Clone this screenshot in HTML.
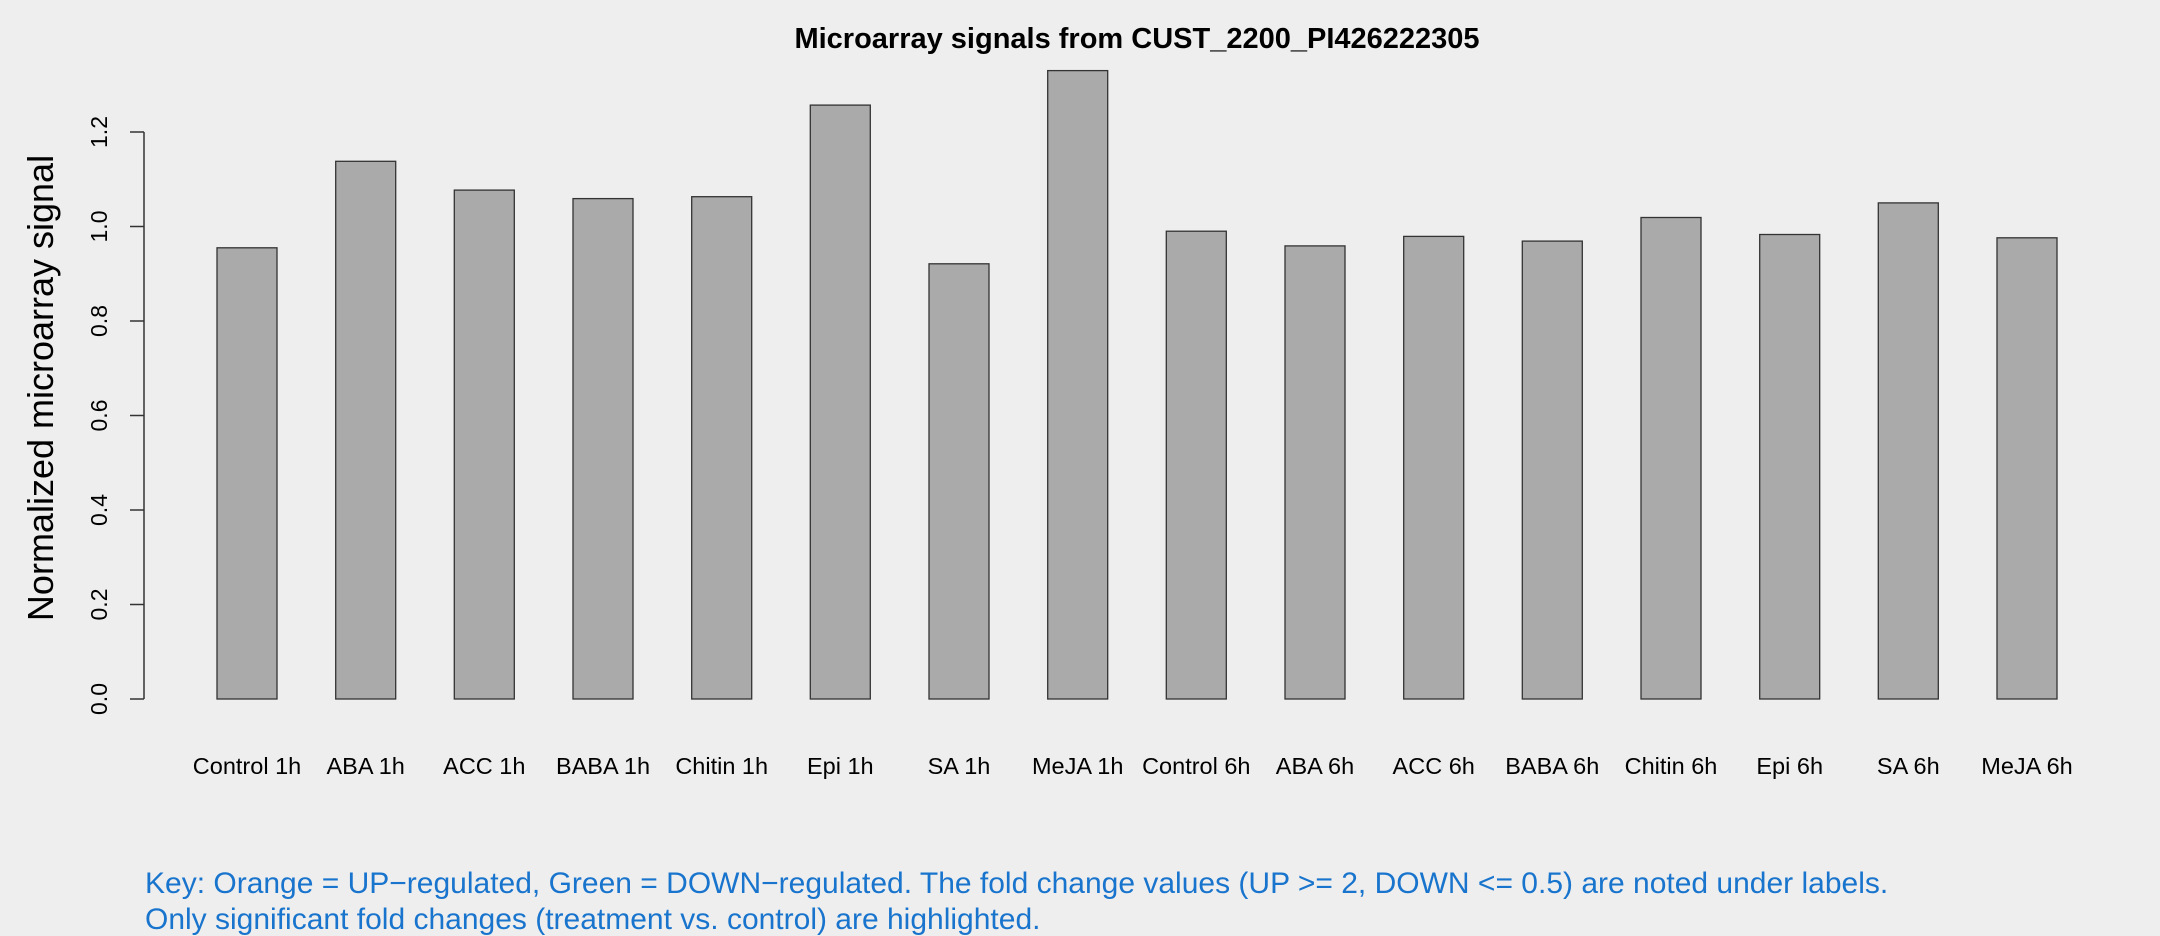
<!DOCTYPE html>
<html><head><style>body{margin:0;background:#eeeeee}svg{display:block}</style></head><body>
<svg width="2160" height="936" xmlns="http://www.w3.org/2000/svg" font-family="Liberation Sans, Arial, sans-serif">
<rect width="2160" height="936" fill="#eeeeee"/>
<text x="1137" y="48" font-size="29" font-weight="bold" text-anchor="middle">Microarray signals from CUST_2200_PI426222305</text>
<text transform="translate(53,388) rotate(-90)" font-size="36" text-anchor="middle">Normalized microarray signal</text>
<g stroke="#333" stroke-width="1.5" fill="none">
<line x1="144" y1="132" x2="144" y2="699"/>
<line x1="130" y1="699" x2="144" y2="699"/><line x1="130" y1="604.5" x2="144" y2="604.5"/><line x1="130" y1="510" x2="144" y2="510"/><line x1="130" y1="415.5" x2="144" y2="415.5"/><line x1="130" y1="321" x2="144" y2="321"/><line x1="130" y1="226.5" x2="144" y2="226.5"/><line x1="130" y1="132" x2="144" y2="132"/>
</g>
<g font-size="23" text-anchor="middle">
<text transform="translate(107,699) rotate(-90)">0.0</text>
<text transform="translate(107,604.5) rotate(-90)">0.2</text>
<text transform="translate(107,510) rotate(-90)">0.4</text>
<text transform="translate(107,415.5) rotate(-90)">0.6</text>
<text transform="translate(107,321) rotate(-90)">0.8</text>
<text transform="translate(107,226.5) rotate(-90)">1.0</text>
<text transform="translate(107,132) rotate(-90)">1.2</text>
</g>
<text x="145" y="893" font-size="30" fill="#1874cd">Key: Orange = UP−regulated, Green = DOWN−regulated. The fold change values (UP &gt;= 2, DOWN &lt;= 0.5) are noted under labels.</text>
<text x="145" y="929" font-size="30" fill="#1874cd">Only significant fold changes (treatment vs. control) are highlighted.</text>
<g fill="#aaaaaa" stroke="#333" stroke-width="1.3">
<rect x="217.0" y="247.8" width="60" height="451.2"/>
<rect x="335.7" y="161.3" width="60" height="537.7"/>
<rect x="454.3" y="190.1" width="60" height="508.9"/>
<rect x="573.0" y="198.6" width="60" height="500.4"/>
<rect x="691.7" y="196.7" width="60" height="502.3"/>
<rect x="810.3" y="105.1" width="60" height="593.9"/>
<rect x="929.0" y="263.8" width="60" height="435.2"/>
<rect x="1047.7" y="70.6" width="60" height="628.4"/>
<rect x="1166.3" y="231.2" width="60" height="467.8"/>
<rect x="1285.0" y="245.9" width="60" height="453.1"/>
<rect x="1403.7" y="236.4" width="60" height="462.6"/>
<rect x="1522.3" y="241.1" width="60" height="457.9"/>
<rect x="1641.0" y="217.5" width="60" height="481.5"/>
<rect x="1759.7" y="234.5" width="60" height="464.5"/>
<rect x="1878.3" y="202.9" width="60" height="496.1"/>
<rect x="1997.0" y="237.8" width="60" height="461.2"/>
</g>
<g font-size="23.5" text-anchor="middle">
<text x="247.0" y="774">Control 1h</text>
<text x="365.7" y="774">ABA 1h</text>
<text x="484.3" y="774">ACC 1h</text>
<text x="603.0" y="774">BABA 1h</text>
<text x="721.7" y="774">Chitin 1h</text>
<text x="840.3" y="774">Epi 1h</text>
<text x="959.0" y="774">SA 1h</text>
<text x="1077.7" y="774">MeJA 1h</text>
<text x="1196.3" y="774">Control 6h</text>
<text x="1315.0" y="774">ABA 6h</text>
<text x="1433.7" y="774">ACC 6h</text>
<text x="1552.3" y="774">BABA 6h</text>
<text x="1671.0" y="774">Chitin 6h</text>
<text x="1789.7" y="774">Epi 6h</text>
<text x="1908.3" y="774">SA 6h</text>
<text x="2027.0" y="774">MeJA 6h</text>
</g>
</svg>
</body></html>
